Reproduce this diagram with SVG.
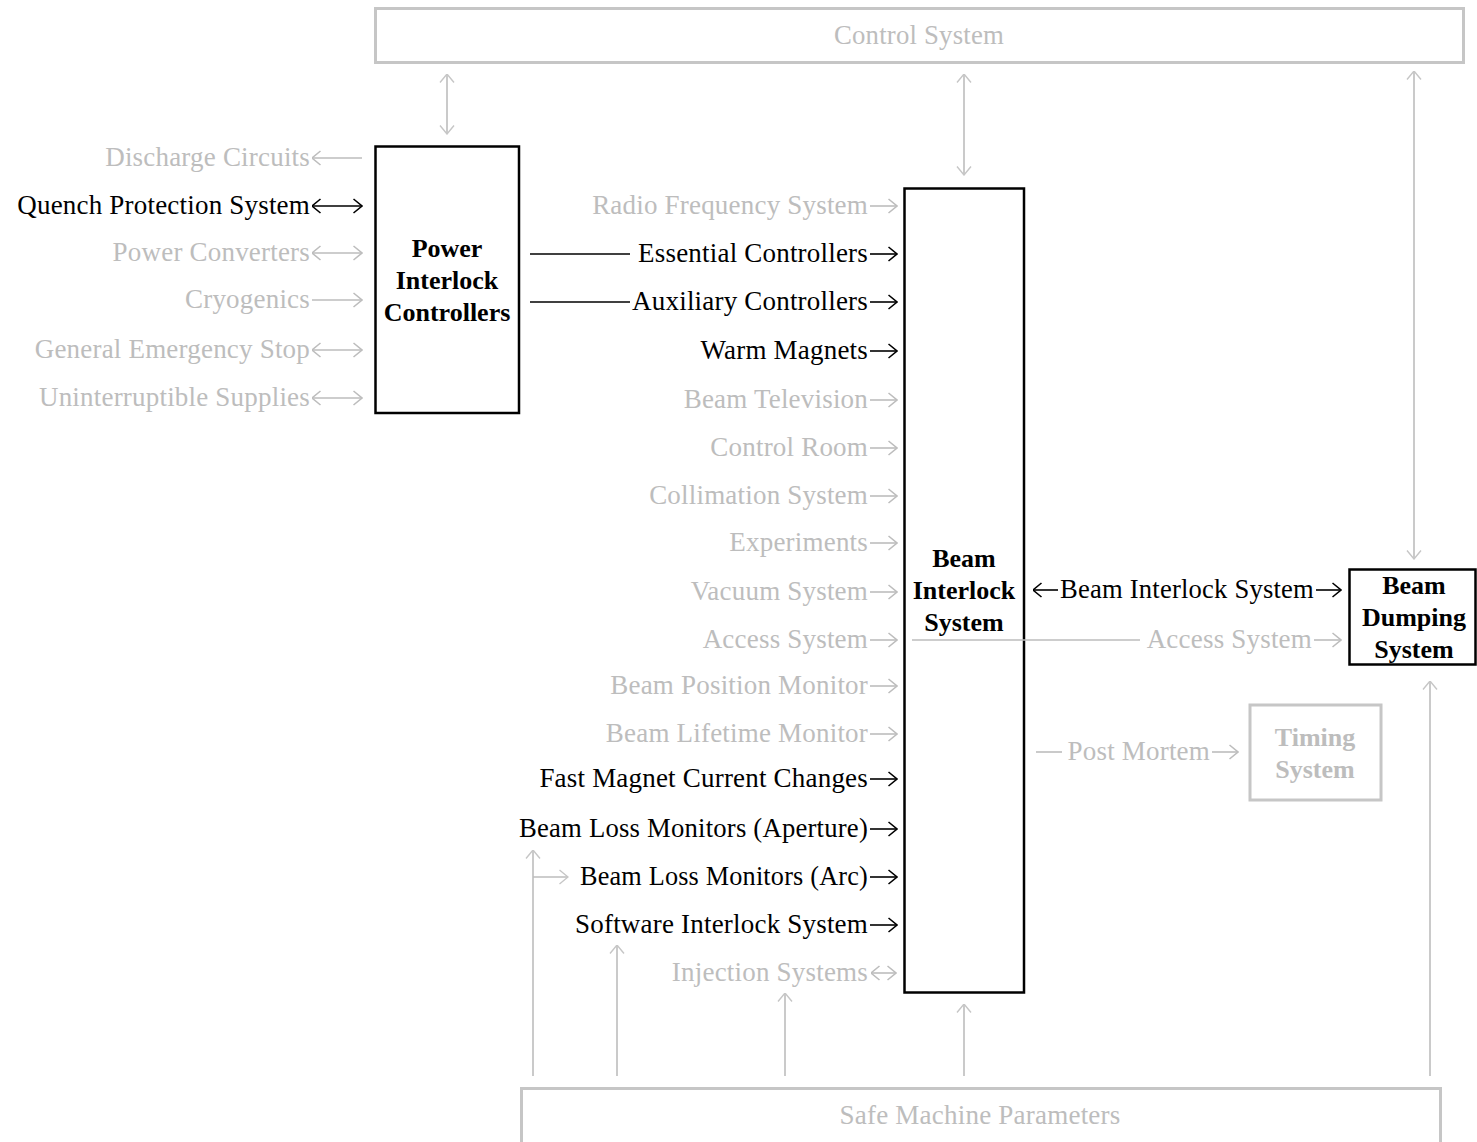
<svg xmlns="http://www.w3.org/2000/svg" width="1477" height="1142" viewBox="0 0 1477 1142">
<defs>
<style>
text{font-family:"Liberation Serif","Times New Roman",serif;font-size:27px;letter-spacing:0.2px}
.k{fill:#000}
.g{fill:#bdbdbd}
.r{text-anchor:end}
.m{text-anchor:middle}
.b{font-weight:bold;font-size:26px;letter-spacing:0}
.node{fill:#fff;stroke:#000;stroke-width:2.5}
.gnode{fill:#fff;stroke:#c6c6c6;stroke-width:3}
.lk{fill:none;stroke:#000;stroke-width:1.6}
.lg{fill:none;stroke:#bdbdbd;stroke-width:1.6}
</style>
<marker id="ak" viewBox="0 0 10 16" refX="9.5" refY="8" markerWidth="10" markerHeight="16" markerUnits="userSpaceOnUse" orient="auto-start-reverse">
<path d="M1,1 L9.5,8 L1,15" fill="none" stroke="#000" stroke-width="1.6"/>
</marker>
<marker id="ag" viewBox="0 0 10 16" refX="9.5" refY="8" markerWidth="10" markerHeight="16" markerUnits="userSpaceOnUse" orient="auto-start-reverse">
<path d="M1,1 L9.5,8 L1,15" fill="none" stroke="#bdbdbd" stroke-width="1.6"/>
</marker>
<marker id="av" viewBox="0 0 10 16" refX="9.5" refY="8" markerWidth="10" markerHeight="16" markerUnits="userSpaceOnUse" orient="auto-start-reverse">
<path d="M1,1 L9.5,8 L1,15" fill="none" stroke="#c6c6c6" stroke-width="1.4"/>
</marker>
</defs>

<g id="control-system">
<rect class="gnode" x="375.5" y="8.5" width="1088" height="54"/>
<text class="g m" x="919" y="44" textLength="170" lengthAdjust="spacingAndGlyphs">Control System</text>
</g>

<g id="power-interlock-controllers">
<rect class="node" x="375.5" y="146.5" width="143.5" height="266.5"/>
<text class="k m b" x="447" y="257">Power</text>
<text class="k m b" x="447" y="289">Interlock</text>
<text class="k m b" x="447" y="321">Controllers</text>
</g>

<g id="beam-interlock-system">
<rect class="node" x="904.5" y="188.5" width="119.5" height="804"/>
<text class="k m b" x="964" y="567">Beam</text>
<text class="k m b" x="964" y="599">Interlock</text>
<text class="k m b" x="964" y="631">System</text>
</g>

<g id="beam-dumping-system">
<rect class="node" x="1349.5" y="569.5" width="126" height="95"/>
<text class="k m b" x="1414" y="594">Beam</text>
<text class="k m b" x="1414" y="626">Dumping</text>
<text class="k m b" x="1414" y="658">System</text>
</g>

<g id="timing-system">
<rect class="gnode" x="1250" y="705" width="131" height="95"/>
<text class="g m b" x="1315" y="746">Timing</text>
<text class="g m b" x="1315" y="778">System</text>
</g>

<g id="safe-machine-parameters">
<rect class="gnode" x="521.5" y="1088.5" width="919" height="60"/>
<text class="g m" x="980" y="1124" textLength="281" lengthAdjust="spacingAndGlyphs">Safe Machine Parameters</text>
</g>

<g id="labels">
<text class="g r" x="310" y="166">Discharge Circuits</text>
<text class="k r" x="310" y="214">Quench Protection System</text>
<text class="g r" x="310" y="261">Power Converters</text>
<text class="g r" x="310" y="308">Cryogenics</text>
<text class="g r" x="310" y="358">General Emergency Stop</text>
<text class="g r" x="310" y="406">Uninterruptible Supplies</text>

<text class="g r" x="868" y="214">Radio Frequency System</text>
<text class="k r" x="868" y="262">Essential Controllers</text>
<text class="k r" x="868" y="310">Auxiliary Controllers</text>
<text class="k r" x="868" y="359">Warm Magnets</text>
<text class="g r" x="868" y="408">Beam Television</text>
<text class="g r" x="868" y="456">Control Room</text>
<text class="g r" x="868" y="504">Collimation System</text>
<text class="g r" x="868" y="551">Experiments</text>
<text class="g r" x="868" y="600">Vacuum System</text>
<text class="g r" x="868" y="648">Access System</text>
<text class="g r" x="868" y="694">Beam Position Monitor</text>
<text class="g r" x="868" y="742">Beam Lifetime Monitor</text>
<text class="k r" x="868" y="787">Fast Magnet Current Changes</text>
<text class="k" x="519" y="837" textLength="349" lengthAdjust="spacingAndGlyphs">Beam Loss Monitors (Aperture)</text>
<text class="k" x="580" y="885" textLength="288" lengthAdjust="spacingAndGlyphs">Beam Loss Monitors (Arc)</text>
<text class="k r" x="868" y="933">Software Interlock System</text>
<text class="g r" x="868" y="981">Injection Systems</text>

<text class="k" x="1060" y="598" textLength="254" lengthAdjust="spacingAndGlyphs">Beam Interlock System</text>
<text class="g r" x="1312" y="648">Access System</text>
<text class="g r" x="1210" y="760">Post Mortem</text>
</g>

<g id="connectors">
<path class="lg" d="M362,158 H312" marker-end="url(#ag)"/>
<path class="lk" d="M312,206 H362" marker-start="url(#ak)" marker-end="url(#ak)"/>
<path class="lg" d="M312,253 H362" marker-start="url(#ag)" marker-end="url(#ag)"/>
<path class="lg" d="M312,300 H362" marker-end="url(#ag)"/>
<path class="lg" d="M312,350 H362" marker-start="url(#ag)" marker-end="url(#ag)"/>
<path class="lg" d="M312,398 H362" marker-start="url(#ag)" marker-end="url(#ag)"/>

<path class="lg" d="M870,206 H897" marker-end="url(#ag)"/>
<path class="lk" d="M530,254 H630"/>
<path class="lk" d="M870,254 H897" marker-end="url(#ak)"/>
<path class="lk" d="M530,302 H630"/>
<path class="lk" d="M870,302 H897" marker-end="url(#ak)"/>
<path class="lk" d="M870,351 H897" marker-end="url(#ak)"/>
<path class="lg" d="M870,400 H897" marker-end="url(#ag)"/>
<path class="lg" d="M870,448 H897" marker-end="url(#ag)"/>
<path class="lg" d="M870,496 H897" marker-end="url(#ag)"/>
<path class="lg" d="M870,543 H897" marker-end="url(#ag)"/>
<path class="lg" d="M870,592 H897" marker-end="url(#ag)"/>
<path class="lg" d="M870,640 H897" marker-end="url(#ag)"/>
<path class="lg" d="M870,686 H897" marker-end="url(#ag)"/>
<path class="lg" d="M870,734 H897" marker-end="url(#ag)"/>
<path class="lk" d="M870,779 H897" marker-end="url(#ak)"/>
<path class="lk" d="M870,829 H897" marker-end="url(#ak)"/>
<path class="lk" d="M870,877 H897" marker-end="url(#ak)"/>
<path class="lk" d="M870,925 H897" marker-end="url(#ak)"/>
<path class="lg" d="M871,973 H896" marker-start="url(#ag)" marker-end="url(#ag)"/>

<path class="lk" d="M1033,590 H1058" marker-start="url(#ak)"/>
<path class="lk" d="M1316,590 H1341" marker-end="url(#ak)"/>
<path class="lg" d="M912,640 H1140"/>
<path class="lg" d="M1314,640 H1341" marker-end="url(#ag)"/>
<path class="lg" d="M1036,752 H1062"/>
<path class="lg" d="M1212,752 H1238" marker-end="url(#ag)"/>

<path class="lg" d="M447,74 V134" marker-start="url(#av)" marker-end="url(#av)"/>
<path class="lg" d="M964,74 V175" marker-start="url(#av)" marker-end="url(#av)"/>
<path class="lg" d="M1414,71 V559" marker-start="url(#av)" marker-end="url(#av)"/>

<path class="lg" d="M533,1076 V850" marker-end="url(#av)"/>
<path class="lg" d="M533,877 H568" marker-end="url(#av)"/>
<path class="lg" d="M617,1076 V945" marker-end="url(#av)"/>
<path class="lg" d="M785,1076 V993" marker-end="url(#av)"/>
<path class="lg" d="M964,1076 V1004" marker-end="url(#av)"/>
<path class="lg" d="M1430,1076 V681" marker-end="url(#av)"/>
</g>
</svg>
